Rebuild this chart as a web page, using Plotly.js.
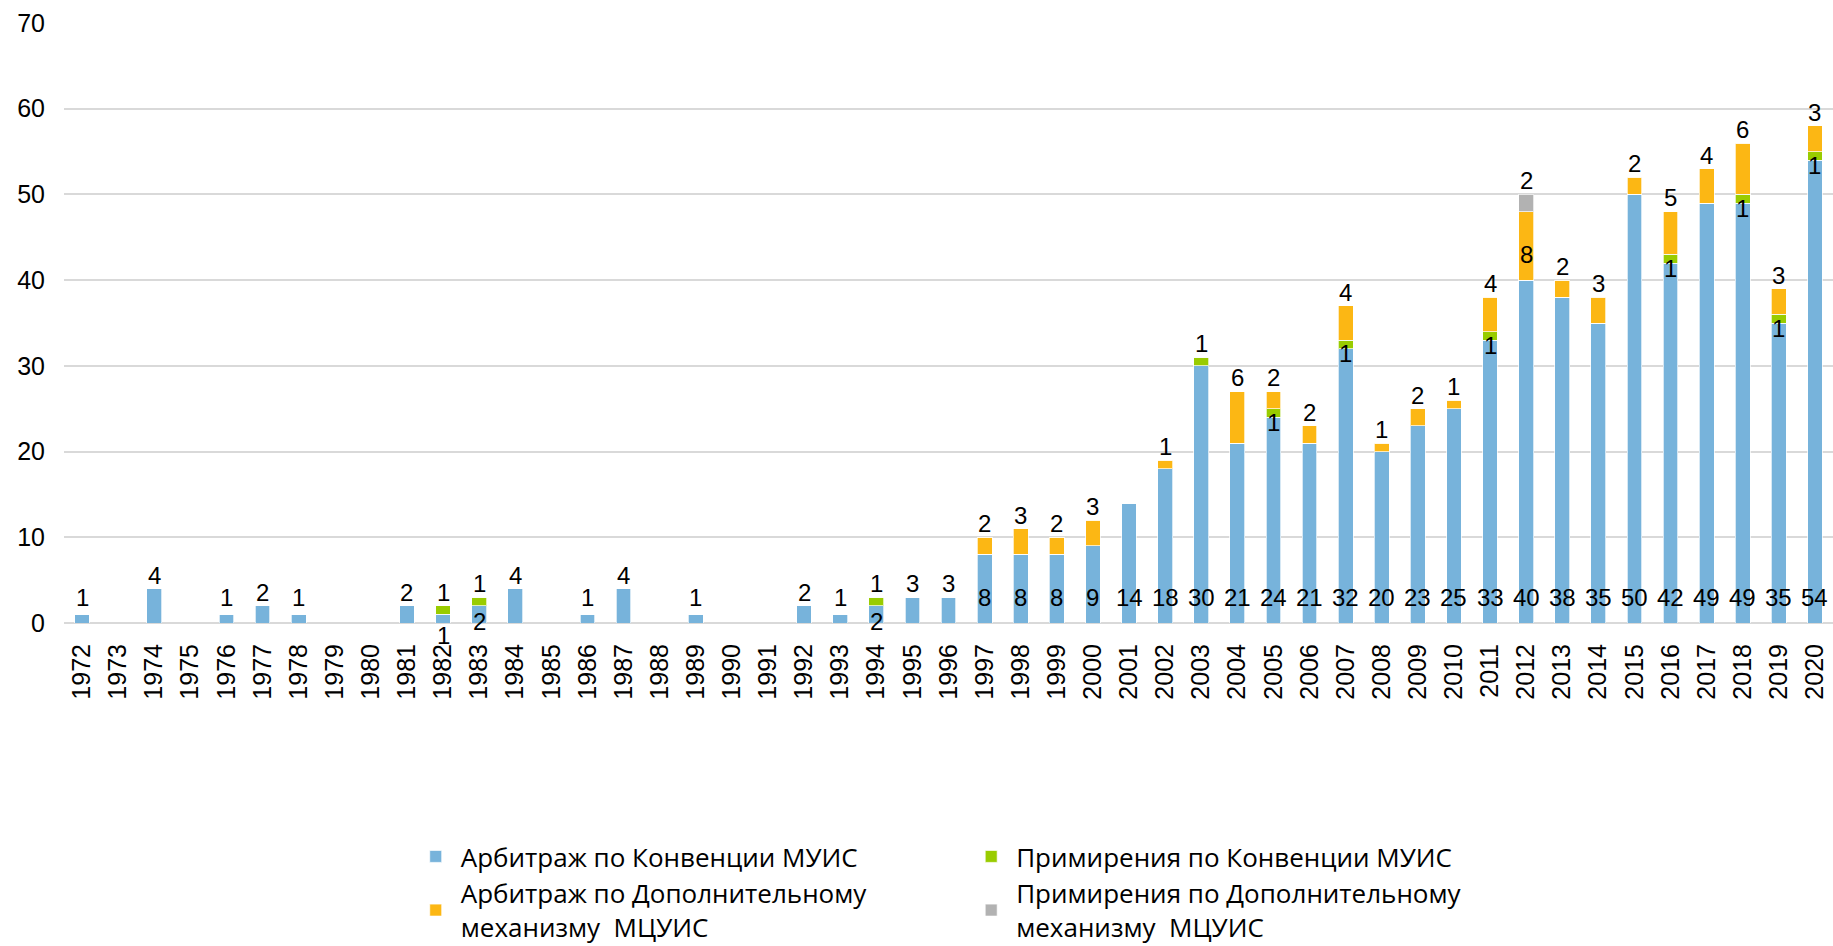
<!DOCTYPE html>
<html>
<head>
<meta charset="utf-8">
<script src="https://cdn.plot.ly/plotly-3.0.1.min.js"></script>
<style>
html,body{margin:0;padding:0;background:#fff;}
#chart{width:1833px;height:946px;}
</style>
</head>
<body>
<div id="chart"></div>
<script>
const years = ['1972','1973','1974','1975','1976','1977','1978','1979','1980','1981','1982','1983','1984','1985','1986','1987','1988','1989','1990','1991','1992','1993','1994','1995','1996','1997','1998','1999','2000','2001','2002','2003','2004','2005','2006','2007','2008','2009','2010','2011','2012','2013','2014','2015','2016','2017','2018','2019','2020'];

// Арбитраж по Конвенции МУИС
const arbConvention = [1,0,4,0,1,2,1,0,0,2,1,2,4,0,1,4,0,1,0,0,2,1,2,3,3,8,8,8,9,14,18,30,21,24,21,32,20,23,25,33,40,38,35,50,42,49,49,35,54];
// Примирения по Конвенции МУИС
const concConvention = [0,0,0,0,0,0,0,0,0,0,1,1,0,0,0,0,0,0,0,0,0,0,1,0,0,0,0,0,0,0,0,1,0,1,0,1,0,0,0,1,0,0,0,0,1,0,1,1,1];
// Арбитраж по Дополнительному механизму МЦУИС
const arbAdditional = [0,0,0,0,0,0,0,0,0,0,0,0,0,0,0,0,0,0,0,0,0,0,0,0,0,2,3,2,3,0,1,0,6,2,2,4,1,2,1,4,8,2,3,2,5,4,6,3,3];
// Примирения по Дополнительному механизму МЦУИС
const concAdditional = [0,0,0,0,0,0,0,0,0,0,0,0,0,0,0,0,0,0,0,0,0,0,0,0,0,0,0,0,0,0,0,0,0,0,0,0,0,0,0,0,2,0,0,0,0,0,0,0,0];

const seriesNames = [
  'Арбитраж по Конвенции МУИС',
  'Примирения по Конвенции МУИС',
  'Арбитраж по Дополнительному<br>механизму  МЦУИС',
  'Примирения по Дополнительному<br>механизму  МЦУИС'
];
const seriesColors = ['#77B3DB', '#99CC00', '#FCB714', '#B2B2B2'];
const seriesLegend = ['legend', 'legend2', 'legend', 'legend2'];
const seriesData = [arbConvention, concConvention, arbAdditional, concAdditional];

const traces = seriesData.map((vals, i) => ({
  type: 'bar',
  x: years,
  y: vals,
  name: seriesNames[i],
  legend: seriesLegend[i],
  legendgroup: 'g' + i,
  marker: {color: seriesColors[i], line: {color: 'rgba(255,255,255,0.7)', width: 1}},
  hoverinfo: 'x+y+name'
}));

// data labels, placed relative to stacked values
const labelFont = {family: 'Liberation Sans, Arial, sans-serif', size: 24, color: '#000'};
const annotations = [];
const ABOVE = 1.6;
years.forEach((yr, k) => {
  const b = arbConvention[k], g = concConvention[k], o = arbAdditional[k], gr = concAdditional[k];
  const top = b + g + o + gr;
  if (b > 0) {
    let yc, shift = 0;
    if (b >= 8) yc = 3.0;
    else if (g > 0) {
      yc = b - 1.8;
      if (yc < 0) { shift = yc * 8.58 - 6; yc = 0; }
    }
    else yc = Math.max(3.0, b + ABOVE);
    annotations.push({x: k, y: yc, yshift: shift, text: String(b)});
  }
  if (g > 0) {
    let yc;
    if (o > 0) yc = b - 0.6;
    else yc = b + g + ABOVE;
    annotations.push({x: k, y: yc, text: String(g)});
  }
  if (o > 0) {
    let yc;
    if (gr > 0) yc = b + g + o / 2 - 1.0;
    else yc = b + g + o + ABOVE;
    annotations.push({x: k, y: yc, text: String(o)});
  }
  if (gr > 0) {
    annotations.push({x: k, y: top + ABOVE, text: String(gr)});
  }
});
annotations.forEach(a => {
  a.xref = 'x'; a.yref = 'y'; a.showarrow = false;
  a.yanchor = 'middle'; a.xanchor = 'center';
  a.font = labelFont;
});

const legendFont = {family: 'Open Sans, Noto Sans, sans-serif', size: 26, color: '#000'};

const layout = {
  width: 1833,
  height: 946,
  margin: {l: 64, r: 0, t: 23, b: 323, autoexpand: false},
  paper_bgcolor: '#fff',
  plot_bgcolor: '#fff',
  barmode: 'stack',
  bargap: 0.59,
  showlegend: true,
  font: {family: 'Liberation Sans, Arial, sans-serif', color: '#000'},
  xaxis: {
    type: 'category',
    tickangle: -90,
    tickfont: {family: 'Liberation Sans, Arial, sans-serif', size: 25, color: '#000'},
    ticklabelstandoff: 15,
    showgrid: false,
    showline: false,
    zeroline: false,
    ticks: '',
    automargin: false
  },
  yaxis: {
    range: [0, 70],
    dtick: 10,
    tick0: 0,
    showgrid: true,
    gridcolor: '#D9D9D9',
    gridwidth: 1.5,
    zeroline: true,
    zerolinecolor: '#D9D9D9',
    zerolinewidth: 1.5,
    showline: false,
    ticks: '',
    ticklabelstandoff: 18,
    tickfont: {family: 'Liberation Sans, Arial, sans-serif', size: 25, color: '#000'},
    automargin: false
  },
  legend: {
    orientation: 'v',
    x: 0.196, xanchor: 'left',
    y: -0.350, yanchor: 'top',
    traceorder: 'normal',
    tracegroupgap: 11,
    itemwidth: 40,
    font: legendFont,
    bgcolor: 'rgba(0,0,0,0)',
    itemclick: false
  },
  legend2: {
    orientation: 'v',
    x: 0.510, xanchor: 'left',
    y: -0.350, yanchor: 'top',
    traceorder: 'normal',
    tracegroupgap: 11,
    itemwidth: 40,
    font: legendFont,
    bgcolor: 'rgba(0,0,0,0)',
    itemclick: false
  },
  annotations: annotations
};

Plotly.newPlot('chart', traces, layout, {displayModeBar: false, responsive: false});
</script>
</body>
</html>
